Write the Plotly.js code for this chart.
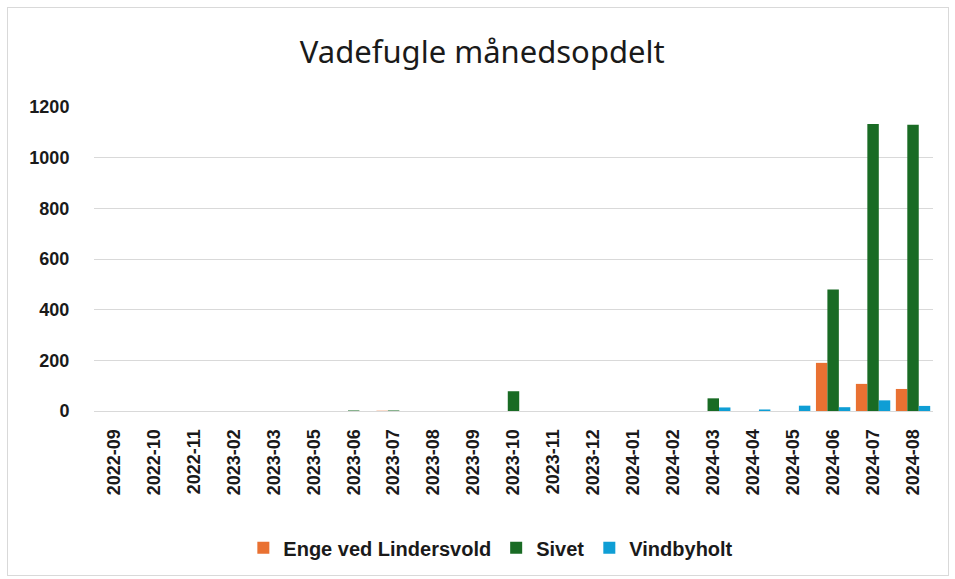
<!DOCTYPE html>
<html>
<head>
<meta charset="utf-8">
<script src="https://cdn.plot.ly/plotly-3.0.1.min.js"></script>
<style>
body{margin:0;padding:0;background:#fff;}
#wrap{position:relative;width:955px;height:579px;}
#chart{width:955px;height:579px;}
#frame{position:absolute;left:7px;top:7px;width:940px;height:567px;border:1px solid #d9d9d9;pointer-events:none;}
</style>
</head>
<body>
<div id="wrap"><div id="chart"></div><div id="frame"></div></div>
<script>
const xLabels = ["2022-09","2022-10","2022-11","2023-02","2023-03","2023-05","2023-06","2023-07","2023-08","2023-09","2023-10","2023-11","2023-12","2024-01","2024-02","2024-03","2024-04","2024-05","2024-06","2024-07","2024-08"];
const enge   = [0,0,0,0,0,0,0,1,0,0,0,0,0,0,0,0,0,0,190,107,87];
const sivet  = [0,0,0,0,0,0,2,2,0,0,78,0,0,0,0,50,0,0,480,1133,1130];
const vindby = [0,0,0,0,0,0,0,0,0,0,0,0,0,0,0,14,6,21,15,42,20];
const seriesNames = ["Enge ved Lindersvold","Sivet","Vindbyholt"];
const seriesColors = ["#E97132","#196B24","#0F9ED5"];
const yTicks = [0,200,400,600,800,1000,1200];

const data = [enge, sivet, vindby].map((vals, i) => ({
  type: "bar",
  name: seriesNames[i],
  x: xLabels,
  y: vals,
  marker: {color: seriesColors[i]},
  hoverinfo: "x+y+name"
}));

const boldFont = (s) => ({family: "Liberation Sans, Arial, sans-serif", size: s, color: "#1a1a1a", weight: "bold"});

const layout = {
  width: 955, height: 579,
  margin: {l: 94, r: 22, t: 107, b: 168},
  paper_bgcolor: "#fff", plot_bgcolor: "#fff",
  title: {text: "Vadefugle månedsopdelt", font: {family: "Noto Sans, Open Sans, sans-serif", size: 31, color: "#1a1a1a"}, x: 0.505, xanchor: "center", y: 0.91, yanchor: "middle"},
  barmode: "group",
  bargap: 0.14,
  bargroupgap: 0,
  showlegend: true,
  legend: {orientation: "h", x: 0.473, xanchor: "center", y: -0.45, yanchor: "middle",
    font: boldFont(20), traceorder: "normal", itemwidth: 30},
  xaxis: {type: "category", tickangle: -90, showgrid: false, showline: false, zeroline: false, ticks: "outside", ticklen: 10, tickcolor: "rgba(0,0,0,0)",
    tickfont: boldFont(18)},
  yaxis: {range: [0, 1200], tickvals: yTicks, showgrid: true, gridcolor: "#d9d9d9", gridwidth: 1, zeroline: true, zerolinecolor: "#d9d9d9", zerolinewidth: 1, showline: false,
    ticks: "outside", ticklen: 20, tickcolor: "rgba(0,0,0,0)",
    tickfont: boldFont(18)}
};
Plotly.newPlot("chart", data, layout, {displayModeBar: false, staticPlot: true});
</script>
</body>
</html>
